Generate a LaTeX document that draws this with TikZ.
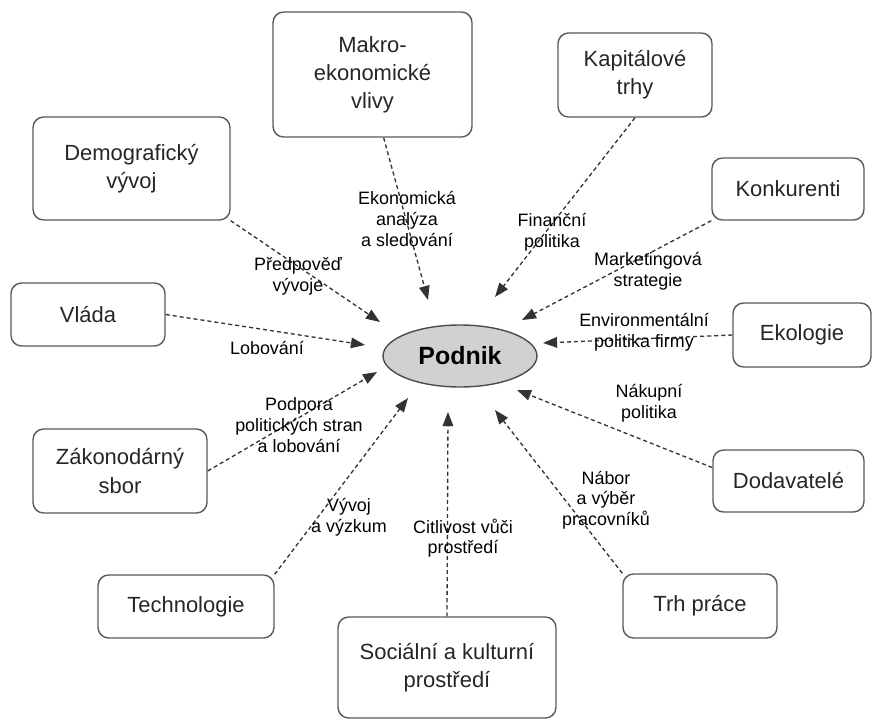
\documentclass[tikz,border=0pt]{standalone}
\usepackage{fontspec}
\setmainfont{Liberation Sans}
\usetikzlibrary{arrows.meta}
\usetikzlibrary{shapes.geometric}

\begin{document}
\begin{tikzpicture}[x=0.02cm,y=-0.02cm,>={Triangle[length=8pt,width=6pt]},
    box/.style={draw=black!65,line width=0.8pt,rounded corners=6pt,align=center,text=black!85,inner sep=0pt,font=\fontsize{12.5}{16}\selectfont},
    lbl/.style={align=center,inner sep=0pt,font=\fontsize{10.2}{11.8}\selectfont},
    flow/.style={->,black!80,line width=0.75pt,dash pattern=on 2.3pt off 1.7pt}]
  \useasboundingbox (0,0) rectangle (876,720);
  % firma uprostred
  \node[ellipse,draw=black!70,fill=black!18,line width=0.8pt,minimum width=3.08cm,minimum height=1.24cm,font=\fontsize{14.2}{16}\selectfont\bfseries] (podnik) at (460,356) {Podnik};
  % okoli
  \node[box,minimum width=3.98cm,minimum height=2.5cm] (makro) at (372.5,74.5) {Makro-\\ekonomické\\vlivy};
  \node[box,minimum width=3.08cm,minimum height=1.68cm] (kap) at (635,75) {Kapitálové\\trhy};
  \node[box,minimum width=3.94cm,minimum height=2.06cm] (dem) at (131.5,168.5) {Demografický\\vývoj};
  \node[box,minimum width=3.04cm,minimum height=1.24cm] (konk) at (788,189) {Konkurenti};
  \node[box,minimum width=3.08cm,minimum height=1.26cm] (vlada) at (88,314.5) {Vláda};
  \node[box,minimum width=2.76cm,minimum height=1.28cm] (eko) at (802,335) {Ekologie};
  \node[box,minimum width=3.48cm,minimum height=1.68cm] (zak) at (120,471) {Zákonodárný\\sbor};
  \node[box,minimum width=3.02cm,minimum height=1.24cm] (dod) at (788.5,481) {Dodavatelé};
  \node[box,minimum width=3.52cm,minimum height=1.26cm] (tech) at (186,606.5) {Technologie};
  \node[box,minimum width=3.08cm,minimum height=1.28cm] (trh) at (700,606) {Trh práce};
  \node[box,minimum width=4.36cm,minimum height=2.02cm] (soc) at (447,667.5) {Sociální a kulturní\\prostředí};
  % hroty sipek
  \coordinate (tMakro) at (428,300);
  \coordinate (tKap) at (495,297);
  \coordinate (tDem) at (380,322);
  \coordinate (tKonk) at (522,320);
  \coordinate (tVlada) at (365,345);
  \coordinate (tEko) at (543,343);
  \coordinate (tZak) at (377,372);
  \coordinate (tDod) at (517,390);
  \coordinate (tTech) at (408,398);
  \coordinate (tTrh) at (495,410);
  \coordinate (tSoc) at (448,412);
  \path[flow] (makro.-80) edge (tMakro);
  \path[flow] (kap.south) edge (tKap);
  \path[flow] (dem.south east) edge (tDem);
  \path[flow] (konk.south west) edge (tKonk);
  \path[flow] (vlada.east) edge (tVlada);
  \path[flow] (eko.west) edge (tEko);
  \path[flow] (zak.east) edge (tZak);
  \path[flow] (dod.170) edge (tDod);
  \path[flow] (tech.north east) edge (tTech);
  \path[flow] (trh.north west) edge (tTrh);
  \path[flow] (soc.north) edge (tSoc);
  % popisky
  \node[lbl] (lEkon) at (407,219) {Ekonomická\\analýza\\a sledování};
  \node[lbl] (lFin) at (552,232) {Finanční\\politika};
  \node[lbl] (lPred) at (298,276) {Předpověď\\vývoje};
  \node[lbl] (lMark) at (648,271) {Marketingová\\strategie};
  \node[lbl] (lLob) at (267,348) {Lobování};
  \node[lbl] (lEnv) at (644,332) {Environmentální\\politika firmy};
  \node[lbl] (lNak) at (649,403) {Nákupní\\politika};
  \node[lbl] (lPodp) at (299,425) {Podpora\\politických stran\\a lobování};
  \node[lbl] (lNab) at (606,500) {Nábor\\a výběr\\pracovníků};
  \node[lbl] (lVyv) at (349,517) {Vývoj\\a výzkum};
  \node[lbl] (lCit) at (463,538) {Citlivost vůči\\prostředí};
\end{tikzpicture}
\end{document}
